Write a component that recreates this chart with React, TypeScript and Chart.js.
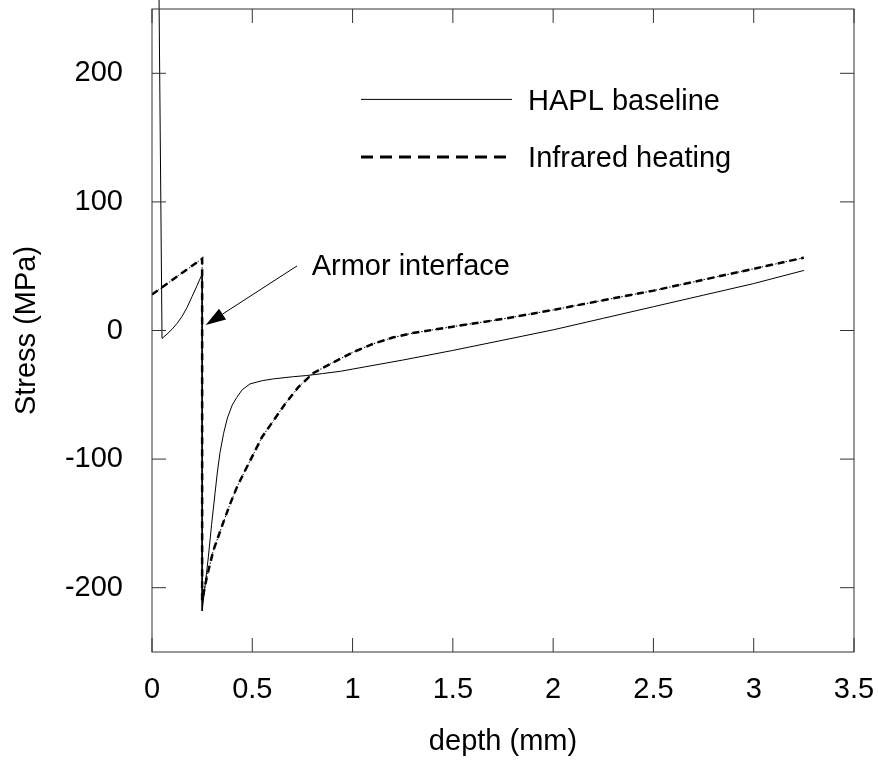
import React, { useEffect, useRef } from "react";
import { Chart, registerables } from "chart.js";

Chart.register(...registerables);

// ---- data ----
const xTicks = [0, 0.5, 1, 1.5, 2, 2.5, 3, 3.5];
const yTicks = [-200, -100, 0, 100, 200];
const seriesNames = ["HAPL baseline", "Infrared heating"];

const haplDepth = [
  0, 0.05, 0.075, 0.1, 0.125, 0.15, 0.175, 0.2, 0.225, 0.25, 0.25, 0.265, 0.281, 0.297,
  0.314, 0.326, 0.339, 0.357, 0.376, 0.4, 0.423, 0.45, 0.489, 0.55, 0.606, 0.7, 0.772, 0.85,
  0.94, 1.0, 1.25, 1.5, 1.75, 2.0, 2.25, 2.5, 2.75, 3.0, 3.25,
];
const haplStress = [
  880, -6.2, -2.8, 1, 5.5, 11, 18, 26.5, 35, 44, -218, -198, -176, -151,
  -127, -110, -95, -80, -68, -58, -52, -46, -41.5, -39, -37.6, -36, -35, -33.5,
  -31.7, -30, -23, -15.5, -7.5, 0.5, 9.5, 18.5, 27.5, 36.5, 46.7,
];

const irDepth = [
  0, 0.125, 0.25, 0.25, 0.273, 0.306, 0.356, 0.389, 0.423, 0.456, 0.506, 0.548, 0.606,
  0.664, 0.73, 0.805, 0.905, 1.0, 1.1, 1.2, 1.3, 1.4, 1.5, 1.75, 2.0, 2.25, 2.5, 2.75, 3.0, 3.25,
];
const irStress = [
  28, 42, 55.8, -210, -192, -171, -149, -135, -122, -111.5, -96, -83, -70,
  -57, -44, -33, -24.7, -17, -10.5, -5.5, -2, 0.5, 3, 9, 16, 23.5, 31, 39.5, 48, 56.6,
];

const annotationText = "Armor interface";

const FONT = "'Liberation Sans', Arial, Helvetica, sans-serif";
const FS = 29;

const decorPlugin = {
  id: "decor",
  afterDatasetsDraw(chart: any) {
    const { ctx, chartArea: a, scales } = chart;
    const xs = scales.x;
    const ys = scales.y;
    const X = (v: number) => xs.getPixelForValue(v);
    const Y = (v: number) => ys.getPixelForValue(v);

    // thin dotted connector along infrared series
    const meta = chart.getDatasetMeta(1);
    ctx.save();
    ctx.beginPath();
    meta.data.forEach((p: any, i: number) => (i ? ctx.lineTo(p.x, p.y) : ctx.moveTo(p.x, p.y)));
    ctx.setLineDash([1.5, 2]);
    ctx.lineWidth = 1;
    ctx.strokeStyle = "#000";
    ctx.stroke();
    ctx.restore();

    // frame + inward ticks
    ctx.save();
    ctx.strokeStyle = "#333";
    ctx.lineWidth = 1;
    ctx.strokeRect(a.left, a.top, a.right - a.left, a.bottom - a.top);
    ctx.beginPath();
    const TL = 14;
    xTicks.forEach((v) => {
      const px = X(v);
      ctx.moveTo(px, a.bottom);
      ctx.lineTo(px, a.bottom - TL);
      ctx.moveTo(px, a.top);
      ctx.lineTo(px, a.top + TL);
    });
    yTicks.forEach((v) => {
      const py = Y(v);
      ctx.moveTo(a.left, py);
      ctx.lineTo(a.left + TL, py);
      ctx.moveTo(a.right, py);
      ctx.lineTo(a.right - TL, py);
    });
    ctx.stroke();
    ctx.restore();

    // legend (in data coordinates)
    ctx.save();
    ctx.fillStyle = "#000";
    ctx.strokeStyle = "#000";
    ctx.font = `${FS}px ${FONT}`;
    ctx.textBaseline = "alphabetic";
    ctx.textAlign = "left";
    ctx.lineWidth = 1;
    ctx.beginPath();
    ctx.moveTo(X(1.042), Y(179.7));
    ctx.lineTo(X(1.795), Y(179.7));
    ctx.stroke();
    ctx.fillText(seriesNames[0], X(1.875), Y(171.5));
    ctx.lineWidth = 3;
    ctx.setLineDash([12, 7]);
    ctx.beginPath();
    ctx.moveTo(X(1.042), Y(134.9));
    ctx.lineTo(X(1.795), Y(134.9));
    ctx.stroke();
    ctx.setLineDash([]);
    ctx.fillText(seriesNames[1], X(1.875), Y(127.4));

    // annotation arrow
    const sx = X(0.723), sy = Y(50.2);
    const tx = X(0.268), ty = Y(4.3);
    const dx = sx - tx, dy = sy - ty;
    const len = Math.hypot(dx, dy);
    const ux = dx / len, uy = dy / len;
    const hl = 20, hw = 6.5;
    const bx = tx + ux * hl, by = ty + uy * hl;
    ctx.lineWidth = 1;
    ctx.beginPath();
    ctx.moveTo(sx, sy);
    ctx.lineTo(bx, by);
    ctx.stroke();
    ctx.beginPath();
    ctx.moveTo(tx, ty);
    ctx.lineTo(bx - uy * hw, by + ux * hw);
    ctx.lineTo(bx + uy * hw, by - ux * hw);
    ctx.closePath();
    ctx.fill();
    ctx.fillText(annotationText, X(0.796), Y(43.2));
    ctx.restore();
  },
};

const zeroPad = (s: any) => {
  s.paddingTop = 0;
  s.paddingBottom = 0;
  s.paddingLeft = 0;
  s.paddingRight = 0;
};

export default function App() {
  const ref = useRef<HTMLCanvasElement>(null);
  useEffect(() => {
    document.body.style.margin = "0";
    Chart.defaults.font.family = FONT;
    Chart.defaults.font.size = FS;
    Chart.defaults.color = "#000";
    const chart = new Chart(ref.current!, {
      type: "scatter",
      data: {
        datasets: [
          {
            label: seriesNames[0],
            data: haplDepth.map((x, i) => ({ x, y: haplStress[i] })),
            borderColor: "#000",
            backgroundColor: "#000",
            borderWidth: 1,
            pointRadius: 0,
            showLine: true,
            tension: 0,
            clip: false as any,
          },
          {
            label: seriesNames[1],
            data: irDepth.map((x, i) => ({ x, y: irStress[i] })),
            borderColor: "#000",
            backgroundColor: "#000",
            borderWidth: 2.5,
            borderDash: [7, 5],
            pointRadius: 0,
            showLine: true,
            tension: 0,
          },
        ],
      },
      options: {
        animation: false,
        responsive: false,
        devicePixelRatio: 1,
        layout: { padding: { top: 9, right: 24, left: 0, bottom: 0 } },
        plugins: { legend: { display: false }, tooltip: { enabled: false } },
        scales: {
          x: {
            type: "linear",
            min: 0,
            max: 3.5,
            afterBuildTicks: (s: any) => {
              s.ticks = xTicks.map((v) => ({ value: v }));
            },
            afterFit: (s: any) => {
              s.height = 109;
              zeroPad(s);
            },
            ticks: {
              padding: 21,
              autoSkip: false,
              maxRotation: 0,
              color: "#000",
              font: { size: FS, family: FONT },
              callback: (v: any) => String(v),
            },
            grid: { display: false, drawTicks: false },
            border: { display: false },
            title: {
              display: true,
              text: "depth (mm)",
              color: "#000",
              font: { size: FS, family: FONT },
              padding: { top: 0, bottom: 2 },
            },
          },
          y: {
            type: "linear",
            min: -250,
            max: 250,
            afterBuildTicks: (s: any) => {
              s.ticks = yTicks.map((v) => ({ value: v }));
            },
            afterFit: (s: any) => {
              s.width = 152;
              zeroPad(s);
            },
            ticks: {
              padding: 29,
              autoSkip: false,
              color: "#000",
              font: { size: FS, family: FONT },
              callback: (v: any) => String(v),
            },
            grid: { display: false, drawTicks: false },
            border: { display: false },
            title: {
              display: true,
              text: "Stress (MPa)",
              color: "#000",
              font: { size: FS, family: FONT },
              padding: { top: 10, bottom: 0 },
            },
          },
        },
      },
      plugins: [decorPlugin],
    });
    return () => chart.destroy();
  }, []);
  return (
    <div style={{ position: "absolute", left: 0, top: 0, width: 878, height: 761, background: "#fff" }}>
      <canvas ref={ref} width={878} height={761} style={{ width: 878, height: 761 }} />
    </div>
  );
}
